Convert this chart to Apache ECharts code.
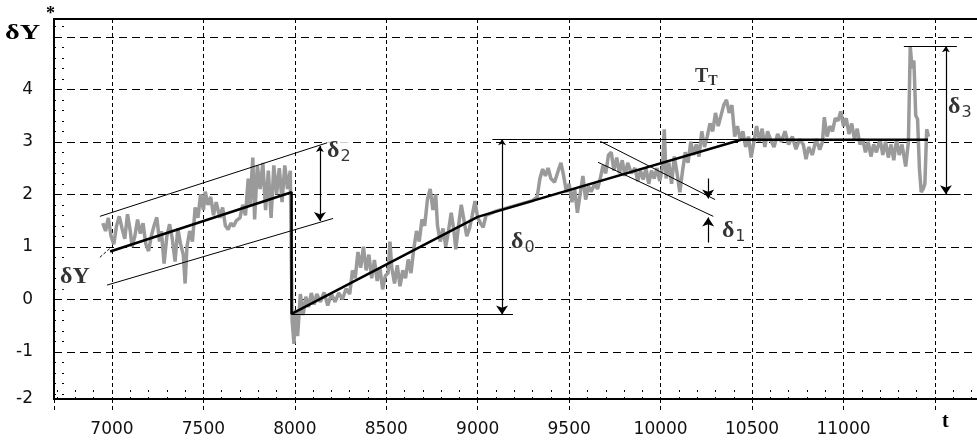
<!DOCTYPE html>
<html>
<head>
<meta charset="utf-8">
<script src="https://cdn.jsdelivr.net/npm/echarts@6/dist/echarts.min.js"></script>
<style>
  html, body { margin: 0; padding: 0; background: #fff; }
  #chart { width: 977px; height: 441px; }
</style>
</head>
<body>
<div id="chart"></div>
<script>
// axis ranges
var tMin = 6683
var tMax = 11730
var yMin = -1.9
var yMax = 5.34

// measured signal δY (gray), [t, value]
var noisyTrace = [
  [6950, 1.45], [6965, 1.30], [6980, 1.55], [6995, 1.20], [7010, 1.05], [7025, 1.40], [7040, 1.58],
  [7055, 1.35], [7070, 1.15], [7085, 1.62], [7100, 1.30], [7110, 1.00], [7125, 1.20], [7140, 1.52],
  [7155, 1.25], [7170, 1.45], [7185, 1.05], [7200, 0.92], [7215, 1.20], [7230, 1.40], [7245, 1.56],
  [7260, 1.10], [7270, 1.30], [7285, 0.68], [7300, 1.20], [7315, 1.43], [7330, 1.15], [7345, 0.72],
  [7360, 1.35], [7375, 1.05], [7390, 0.85], [7400, 0.30], [7410, 1.00], [7425, 1.30], [7440, 1.10],
  [7455, 1.75], [7470, 1.55], [7485, 2.00], [7500, 1.70], [7510, 2.05], [7525, 1.80], [7540, 1.95],
  [7555, 1.60], [7570, 1.85], [7590, 1.55], [7605, 1.75], [7620, 1.40], [7635, 1.33], [7650, 1.45],
  [7665, 1.39], [7680, 1.50], [7700, 1.55], [7715, 1.80], [7730, 1.60], [7745, 2.30], [7755, 1.80],
  [7770, 2.70], [7780, 1.52], [7795, 2.55], [7810, 2.10], [7825, 2.60], [7840, 1.70], [7855, 2.45],
  [7870, 1.55], [7885, 2.55], [7900, 2.00], [7915, 2.50], [7930, 1.85], [7945, 2.55], [7960, 2.10],
  [7975, 2.45],
  [7985, -0.40], [7995, -0.85], [8005, -0.20], [8015, -0.70], [8030, 0.10], [8045, -0.30], [8060, 0.05],
  [8075, -0.15], [8090, 0.12], [8105, -0.10], [8120, 0.10], [8140, -0.05], [8160, 0.13], [8180, -0.12],
  [8200, 0.10], [8220, -0.05], [8240, 0.12], [8260, 0.00], [8280, 0.20], [8300, 0.10], [8315, 0.55],
  [8330, 0.40], [8345, 0.90], [8360, 0.60], [8375, 1.00], [8390, 0.55], [8405, 0.85], [8420, 0.40],
  [8435, 0.75], [8450, 0.35], [8465, 0.60], [8480, 0.19], [8495, 0.45], [8510, 0.50], [8520, 1.10],
  [8530, 0.60], [8545, 0.30], [8560, 0.65], [8575, 0.25], [8590, 0.55], [8605, 0.40], [8620, 0.76],
  [8635, 0.50], [8650, 0.95], [8665, 1.30], [8680, 1.10], [8695, 1.52], [8710, 1.40], [8725, 1.90],
  [8740, 2.10], [8755, 1.70], [8770, 2.00], [8780, 1.40], [8795, 1.10], [8810, 1.35], [8825, 1.00],
  [8840, 1.30], [8855, 1.65], [8870, 1.30], [8880, 0.95], [8895, 1.40], [8910, 1.80], [8925, 1.50],
  [8940, 1.20], [8955, 1.35], [8970, 1.60], [8985, 1.87], [9000, 1.55], [9015, 1.45], [9030, 1.37],
  [9045, 1.60], [9100, 1.68], [9200, 1.78], [9300, 1.88], [9325, 1.95],
  [9340, 2.30], [9355, 2.48], [9370, 2.35], [9385, 2.50], [9400, 2.30], [9420, 2.23], [9440, 2.45],
  [9455, 2.60], [9470, 2.35], [9485, 2.04], [9500, 2.20], [9515, 1.85], [9530, 2.10], [9545, 1.65],
  [9560, 2.00], [9575, 2.35], [9590, 1.90], [9605, 2.15], [9620, 2.05], [9640, 2.20], [9655, 2.10],
  [9670, 2.30], [9685, 2.55], [9700, 2.40], [9715, 2.75], [9730, 2.80], [9745, 2.45], [9760, 2.70],
  [9775, 2.40], [9790, 2.65], [9805, 2.35], [9820, 2.60], [9840, 2.40], [9860, 2.50], [9875, 2.25],
  [9890, 2.45], [9905, 2.28], [9920, 2.50], [9935, 2.20], [9950, 2.45], [9965, 2.30], [9980, 2.50],
  [9995, 2.25], [10010, 2.50], [10020, 3.24], [10030, 2.30], [10045, 2.60], [10060, 2.20], [10075, 2.72],
  [10090, 2.40], [10105, 2.04], [10120, 2.45], [10135, 2.80], [10150, 2.60], [10165, 3.00], [10180, 2.75],
  [10195, 2.95], [10210, 2.72], [10225, 3.20], [10240, 2.90], [10255, 3.10], [10270, 3.35], [10285, 3.20],
  [10300, 3.55], [10315, 3.30], [10330, 3.50], [10345, 3.70], [10360, 3.80], [10375, 3.55], [10390, 3.70],
  [10405, 3.10], [10420, 3.30], [10435, 3.05], [10450, 3.20], [10465, 2.90], [10480, 3.10], [10495, 2.70],
  [10510, 3.00], [10525, 3.30], [10540, 3.00], [10555, 3.25], [10570, 2.90], [10585, 3.20], [10600, 3.05],
  [10620, 2.90], [10640, 3.15], [10660, 3.00], [10680, 3.20], [10700, 2.95], [10720, 3.10], [10740, 2.86],
  [10760, 3.05], [10780, 2.95], [10795, 2.67], [10810, 2.90], [10830, 2.75], [10850, 3.05], [10870, 2.85],
  [10885, 3.00], [10895, 3.47], [10910, 3.10], [10925, 3.30], [10940, 3.20], [10955, 3.45], [10970, 3.40],
  [10985, 3.58], [11000, 3.30], [11015, 3.45], [11030, 3.15], [11045, 3.35], [11060, 3.05], [11075, 3.25],
  [11090, 2.95], [11105, 3.05], [11120, 2.80], [11135, 3.00], [11150, 2.72], [11165, 2.95], [11180, 2.80],
  [11200, 3.05], [11215, 2.75], [11230, 3.00], [11245, 2.70], [11260, 2.95], [11275, 2.65], [11290, 3.05],
  [11305, 2.75], [11320, 2.95], [11340, 2.53], [11355, 3.00], [11365, 4.82], [11375, 4.40], [11385, 4.55],
  [11395, 3.50], [11405, 3.43], [11415, 2.50], [11425, 2.04], [11435, 2.10], [11445, 2.20], [11455, 3.24],
  [11465, 3.10]
]

// piecewise trend (thick black)
var trendLine = [[6990, 0.91], [7982, 2.04], [7982, -0.28], [9000, 1.57], [10440, 3.04], [11462, 3.04]]

// thin construction lines
var thinLines = [
  [[6934, 1.58], [8193, 3.0]],    // upper band
  [[6973, 0.27], [8209, 1.54]],   // lower band
  [[7982, -0.29], [9193, -0.29]], // base level
  [[9080, 3.05], [10440, 3.05]],  // top level
  [[9670, 3.01], [10298, 1.90]],  // δ1 upper
  [[9658, 2.61], [10288, 1.58]],  // δ1 lower
  [[11330, 4.82], [11620, 4.82]], // δ3 top
  [[11382, 2.0], [11640, 2.0]]    // δ3 bottom
]
var faintLine = [[9000, 1.57], [9250, 1.85]]
var leaderLine = [[6934, 0.80], [6989, 0.97]]

// double arrows
var arrowsBoth = [
  [[8137, 2.92], [8137, 1.49]],   // δ2
  [[9133, 3.05], [9133, -0.29]],  // δ0
  [[11560, 4.82], [11560, 2.0]]   // δ3
]
// single arrows (head at end)
var arrowsOne = [
  [[10260, 2.30], [10260, 1.92]],
  [[10260, 1.08], [10260, 1.56]]
]

// annotation labels
var labelPos = [[8176, 2.82], [9182, 1.09], [10335, 1.30], [11571, 3.66], [10188, 4.24], [6716, 0.42]]
var labelText = ['{d|δ}{s|2}', '{d|δ}{s|0}', '{d|δ}{s|1}', '{d|δ}{s|3}', '{t|T}{ts|T}', '{y|δY}']

var chart = echarts.init(document.getElementById('chart'))

var serif = 'Liberation Serif'
var sans = 'DejaVu Sans'

function toLines (list) {
  return list.map(function (c) { return { coords: c } })
}

chart.setOption({
  animation: false,
  grid: { left: 54, right: 0, top: 19, bottom: 42 },
  xAxis: [{
    // main axis: labels, grid, inner minor dots
    type: 'value',
    min: tMin,
    max: tMax,
    splitNumber: 10,
    axisLine: { onZero: false, lineStyle: { color: '#000', width: 2 } },
    axisTick: { show: false, inside: true },
    minorTick: { show: true, splitNumber: 5, length: 9, lineStyle: { color: '#000', type: [2, 5] } },
    axisLabel: {
      margin: 22,
      color: '#111',
      fontFamily: sans,
      fontSize: 17,
      showMinLabel: false,
      showMaxLabel: false,
      formatter: function (v) { return (v % 500 === 0 && v <= 11000) ? String(v) : '' }
    },
    splitLine: { show: true, showMinLine: false, showMaxLine: false, lineStyle: { color: '#000', type: [4, 3] } }
  }, {
    // top frame
    type: 'value',
    position: 'top',
    min: tMin,
    max: tMax,
    axisLine: { show: true, onZero: false, lineStyle: { color: '#000', width: 2 } },
    axisTick: { show: false },
    axisLabel: { show: false },
    splitLine: { show: false }
  }, {
    // dashed grid lines running out below the frame
    type: 'value',
    position: 'bottom',
    min: tMin,
    max: tMax,
    splitNumber: 10,
    axisLine: { show: false, onZero: false },
    axisTick: { show: true, length: 11, lineStyle: { color: '#000', type: [4, 3] } },
    axisLabel: { show: false },
    splitLine: { show: false }
  }],
  yAxis: {
    type: 'value',
    min: yMin,
    max: yMax,
    splitNumber: 7,
    axisLine: { show: true, lineStyle: { color: '#000', width: 2 } },
    axisTick: { show: false, inside: true },
    minorTick: { show: true, splitNumber: 5, length: 10, lineStyle: { color: '#000', type: [2, 6] } },
    axisLabel: {
      margin: 21,
      color: '#111',
      fontFamily: sans,
      fontSize: 17,
      showMaxLabel: false,
      formatter: function (v) {
        if (v < -1.5) return '-2'
        if (v > 4.5) return ''
        return String(v)
      }
    },
    splitLine: { show: true, showMinLine: false, showMaxLine: false, lineStyle: { color: '#000', type: [8, 5] } }
  },
  series: [
    {
      name: 'dY',
      type: 'line',
      data: noisyTrace,
      showSymbol: false,
      z: 2,
      lineStyle: { color: '#9a9a9a', width: 3.5 }
    },
    {
      name: 'faint',
      type: 'line',
      data: faintLine,
      showSymbol: false,
      z: 3,
      lineStyle: { color: '#aaa', width: 1 }
    },
    {
      name: 'trend',
      type: 'line',
      data: trendLine,
      showSymbol: false,
      z: 5,
      lineStyle: { color: '#000', width: 2.5 }
    },
    {
      name: 'thin',
      type: 'lines',
      coordinateSystem: 'cartesian2d',
      z: 4,
      symbol: 'none',
      lineStyle: { color: '#000', width: 1, opacity: 1 },
      data: toLines(thinLines)
    },
    {
      name: 'leader',
      type: 'lines',
      coordinateSystem: 'cartesian2d',
      z: 4,
      symbol: 'none',
      lineStyle: { color: '#000', width: 1, type: [3, 2], opacity: 1 },
      data: toLines([leaderLine])
    },
    {
      name: 'arrows2',
      type: 'lines',
      coordinateSystem: 'cartesian2d',
      z: 4,
      symbol: ['arrow', 'arrow'],
      symbolSize: [6, 9],
      lineStyle: { color: '#000', width: 1.2, opacity: 1 },
      itemStyle: { color: '#000' },
      data: toLines(arrowsBoth)
    },
    {
      name: 'arrows1',
      type: 'lines',
      coordinateSystem: 'cartesian2d',
      z: 4,
      symbol: ['none', 'arrow'],
      symbolSize: [6, 9],
      lineStyle: { color: '#000', width: 1.2, opacity: 1 },
      itemStyle: { color: '#000' },
      data: toLines(arrowsOne)
    },
    {
      name: 'labels',
      type: 'scatter',
      symbolSize: 0,
      z: 6,
      data: labelPos.map(function (p, i) {
        return { value: p, label: { formatter: labelText[i] } }
      }),
      label: {
        show: true,
        position: 'right',
        distance: 0,
        backgroundColor: '#fff',
        rich: {
          d: { fontFamily: serif, fontWeight: 'bold', fontSize: 24, color: '#000' },
          s: { fontFamily: sans, fontSize: 16, color: '#000', padding: [12, 0, 0, 1] },
          t: { fontFamily: serif, fontWeight: 'bold', fontSize: 20, color: '#000' },
          ts: { fontFamily: serif, fontWeight: 'bold', fontSize: 14, color: '#000', padding: [10, 0, 0, 0] },
          y: { fontFamily: serif, fontWeight: 'bold', fontSize: 24, color: '#000' }
        }
      }
    }
  ],
  graphic: [
    {
      type: 'text',
      left: 5,
      top: 23,
      style: { text: 'δY', font: 'bold 21px "Liberation Serif"', fill: '#000' },
      scaleX: 1.35
    },
    {
      type: 'text',
      left: 46,
      top: 5,
      style: { text: '*', font: 'bold 18px "Liberation Serif"', fill: '#000' }
    },
    {
      type: 'text',
      left: 942,
      top: 412,
      style: { text: 't', font: 'bold 20px "Liberation Serif"', fill: '#000' }
    }
  ]
})
</script>
</body>
</html>
